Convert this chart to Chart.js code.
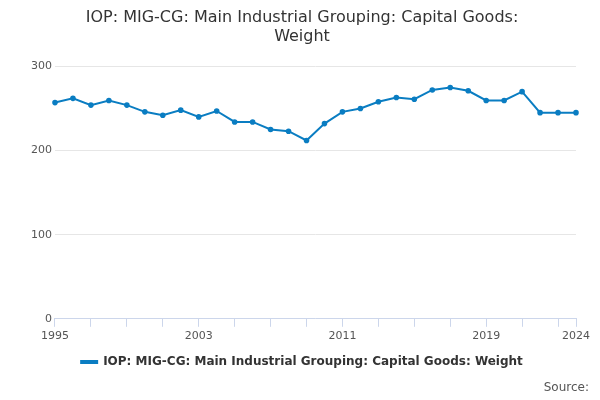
<!DOCTYPE html>
<html>
<head>
<meta charset="utf-8">
<script src="https://cdn.jsdelivr.net/npm/chart.js@4"></script>
<style>
  body { margin: 0; background: #fff; font-family: "DejaVu Sans", sans-serif; }
  #wrap { position: relative; width: 600px; height: 400px; }
  #source { position: absolute; right: 11px; bottom: 6px; font-size: 12px; color: #555; }
</style>
</head>
<body>
<div id="wrap">
  <canvas id="chart" width="600" height="400"></canvas>
  <div id="source">Source:</div>
</div>
<script>
const years = [];
for (let y = 1995; y <= 2024; y++) years.push(String(y));
const weights = [257, 262, 254, 259.5, 254, 246, 242, 248, 240, 247,
                 234, 234, 225, 223, 212, 232, 246, 250, 258, 263,
                 261, 272, 275, 271, 259.5, 259.5, 270, 245, 245, 245];
const shownLabels = ['1995', '2003', '2011', '2019', '2024'];
const seriesName = 'IOP: MIG-CG: Main Industrial Grouping: Capital Goods: Weight';

new Chart(document.getElementById('chart'), {
    type: 'line',
    data: {
        labels: years,
        datasets: [{
            label: seriesName,
            data: weights,
            borderColor: '#0a7dc2',
            backgroundColor: '#0a7dc2',
            borderWidth: 2,
            pointRadius: 1.8,
            tension: 0
        }]
    },
    options: {
        responsive: false,
        animation: false,
        layout: { padding: { left: 28, right: 24, bottom: 22 } },
        plugins: {
            title: {
                display: true,
                text: ['IOP: MIG-CG: Main Industrial Grouping: Capital Goods:', 'Weight'],
                font: { size: 16, weight: 'normal', family: 'DejaVu Sans' },
                color: '#333',
                padding: { top: 8, bottom: 20 }
            },
            legend: {
                position: 'bottom',
                labels: {
                    font: { size: 12, weight: 'bold', family: 'DejaVu Sans' },
                    color: '#333',
                    boxWidth: 16,
                    boxHeight: 2
                }
            }
        },
        scales: {
            x: {
                grid: {
                    drawOnChartArea: false,
                    tickLength: 8,
                    color: ctx => (ctx.index % 2 === 0 || ctx.index === years.length - 1) ? '#ccd6eb' : 'rgba(0,0,0,0)'
                },
                border: { color: '#ccd6eb' },
                ticks: {
                    autoSkip: false,
                    maxRotation: 0,
                    font: { size: 11, family: 'DejaVu Sans' },
                    color: '#555',
                    callback: function (v) {
                        const l = this.getLabelForValue(v);
                        return shownLabels.includes(l) ? l : '';
                    }
                }
            },
            y: {
                min: 0,
                max: 300,
                ticks: { stepSize: 100, font: { size: 11, family: 'DejaVu Sans' }, color: '#555' },
                grid: { color: '#e6e6e6', drawTicks: false },
                border: { display: false }
            }
        }
    }
});
</script>
</body>
</html>
